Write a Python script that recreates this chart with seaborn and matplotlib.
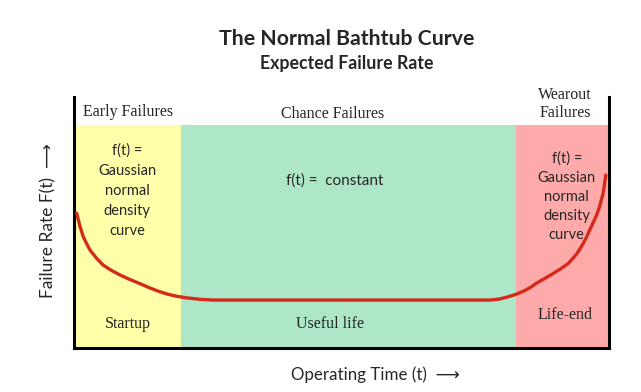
import seaborn as sns
import matplotlib.pyplot as plt
import pandas as pd

sns.set_style('white')

# failure rate (x: operating time 0-100, y: rate 0-100)
time = [0.5, 1.1, 1.74, 2.4, 3.0, 4.2, 5.4, 7.0, 8.6, 10.1, 11.7, 13.0, 14.2, 15.8,
        17.4, 19.2, 21, 23.5, 26, 40, 55, 70, 77.8, 79.5, 81, 82.5, 84, 85.3, 86.5,
        88, 89.5, 91, 92.4, 93.2, 94.0, 94.6, 95.2, 95.8, 96.4, 97.0, 97.7, 98.3,
        98.9, 99.4]
rate = [53.7, 48.6, 44.3, 41.4, 39.0, 35.8, 33.1, 30.9, 29.1, 27.6, 26.2, 25.0,
        23.9, 22.6, 21.5, 20.6, 20.0, 19.4, 19.1, 19.1, 19.1, 19.1, 19.1, 19.5,
        20.3, 21.3, 22.6, 24.1, 25.9, 27.7, 29.6, 31.6, 33.7, 35.6, 37.6, 39.6,
        41.7, 44.2, 47.0, 49.8, 53.0, 56.8, 61.6, 68.9]

regions = ['Early Failures', 'Chance Failures', 'Wearout\nFailures']
region_edges = [0, 20, 82.6, 100]
region_colors = ['#FFFFAA', '#AEE6C8', '#FFAAAA']
bottom_labels = ['Startup', 'Useful life', 'Life-end']
middle_labels = ['f(t) =\nGaussian\nnormal\ndensity\ncurve', 'f(t) =  constant',
                 'f(t) =\nGaussian\nnormal\ndensity\ncurve']

df = pd.DataFrame({'time': time, 'rate': rate})

fig = plt.figure(figsize=(6.41, 3.92), dpi=100)
ax = fig.add_axes([74 / 641, 1 - 348 / 392, 535 / 641, 251 / 392])

for i in range(3):
    ax.axvspan(region_edges[i], region_edges[i + 1], ymin=0, ymax=0.888,
               color=region_colors[i], lw=0, zorder=0)

sns.lineplot(data=df, x='time', y='rate', color='#D42A1A', lw=2.4, ax=ax, zorder=3)

ax.set_xlim(0, 100)
ax.set_ylim(0, 100)
ax.set_xticks([])
ax.set_yticks([])
ax.set_xlabel('')
ax.set_ylabel('')
ax.spines['top'].set_visible(False)
for s in ['left', 'right', 'bottom']:
    ax.spines[s].set_color('black')
    ax.spines[s].set_linewidth(2.2)

serif = 'Liberation Serif'
sans = ['Lato', 'DejaVu Sans']

ax.text(10.1, 94.0, regions[0], ha='center', va='center', family=serif, fontsize=11.5)
ax.text(48.4, 93.2, regions[1], ha='center', va='center', family=serif, fontsize=11.5)
ax.text(91.8, 97.2, regions[2], ha='center', va='center', family=serif, fontsize=11.5,
        linespacing=1.15, clip_on=False)

ax.text(9.9, 62.5, middle_labels[0], ha='center', va='center', family=sans,
        fontsize=10.5, linespacing=1.55)
ax.text(48.8, 66.9, middle_labels[1], ha='center', va='center', family=sans, fontsize=11)
ax.text(92.1, 60.2, middle_labels[2], ha='center', va='center', family=sans,
        fontsize=10.5, linespacing=1.45)

ax.text(10.1, 9.6, bottom_labels[0], ha='center', va='center', family=serif, fontsize=11.5)
ax.text(47.9, 9.6, bottom_labels[1], ha='center', va='center', family=serif, fontsize=11.5)
ax.text(91.8, 13.1, bottom_labels[2], ha='center', va='center', family=serif, fontsize=11.5)

fig.text(347 / 641, 1 - 39 / 392, 'The Normal Bathtub Curve', ha='center', va='center',
         family=sans, fontsize=15.3, fontweight='bold')
fig.text(347 / 641, 1 - 64 / 392, 'Expected Failure Rate', ha='center', va='center',
         family=sans, fontsize=12.8, fontweight='bold')

fig.text(48 / 641, 1 - 221 / 392, 'Failure Rate F(t)  \u27f6', rotation=90,
         ha='center', va='center', family=sans, fontsize=12.5)
fig.text(375 / 641, 1 - 375 / 392, 'Operating Time (t)  \u27f6', ha='center', va='center',
         family=sans, fontsize=12.2)

fig.savefig('out.png', dpi=100)
